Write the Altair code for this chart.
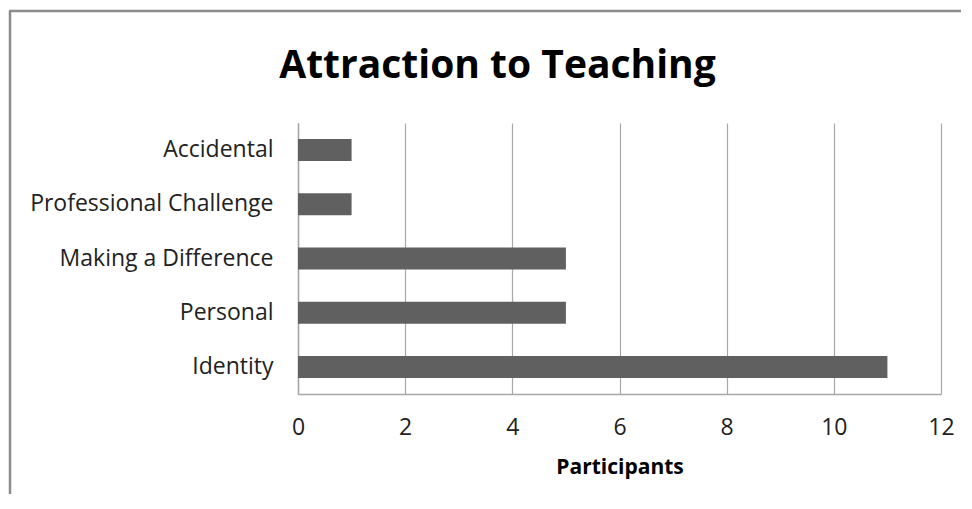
import altair as alt
import pandas as pd

categories = ["Accidental", "Professional Challenge", "Making a Difference", "Personal", "Identity"]
participants = [1, 1, 5, 5, 11]
x_ticks = [0, 2, 4, 6, 8, 10, 12]

df = pd.DataFrame({"category": categories, "participants": participants})

FONT = "Open Sans"

bars = alt.Chart(df).mark_bar(size=22, color="#606060").encode(
    x=alt.X("participants:Q",
            scale=alt.Scale(domain=[0, 12], nice=False),
            axis=alt.Axis(values=x_ticks, title="Participants", grid=True,
                          gridColor="#a8a8a8", gridWidth=1.2,
                          domainColor="#a8a8a8", domainWidth=1.5,
                          ticks=False, labelFlush=False, labelPadding=22, labelFontSize=23,
                          labelColor="#222222", labelFont=FONT,
                          titleFont=FONT, titleFontSize=21, titleFontWeight="bold",
                          titleColor="#000000", titlePadding=17)),
    y=alt.Y("category:N", sort=categories,
            axis=alt.Axis(title=None, ticks=False, domainColor="#a8a8a8", domainWidth=1.5,
                          labelPadding=25, labelFontSize=23, labelColor="#222222",
                          labelFont=FONT, labelLimit=400)),
)

border_data = alt.Data(values=[{"k": 1}])
left_border = alt.Chart(border_data).mark_rule(color="#8c8c8c", strokeWidth=2.5).encode(
    x=alt.value(-288), y=alt.value(-112), y2=alt.value(400)
)
top_border = alt.Chart(border_data).mark_rule(color="#8c8c8c", strokeWidth=2.5).encode(
    x=alt.value(-289), x2=alt.value(700), y=alt.value(-112)
)

chart = alt.layer(left_border, top_border, bars).properties(
    width=643,
    height=271,
    title=alt.TitleParams("Attraction to Teaching", fontSize=39, font=FONT, fontWeight="bold",
                          color="#000000", anchor="middle", dx=-122, offset=-76),
    autosize=alt.AutoSizeParams(type="none"),
    padding={"left": 290, "top": 115, "right": 20, "bottom": 100},
).configure_view(stroke=None)

chart.save("out.html", embed_options={"renderer": "svg", "actions": False})
